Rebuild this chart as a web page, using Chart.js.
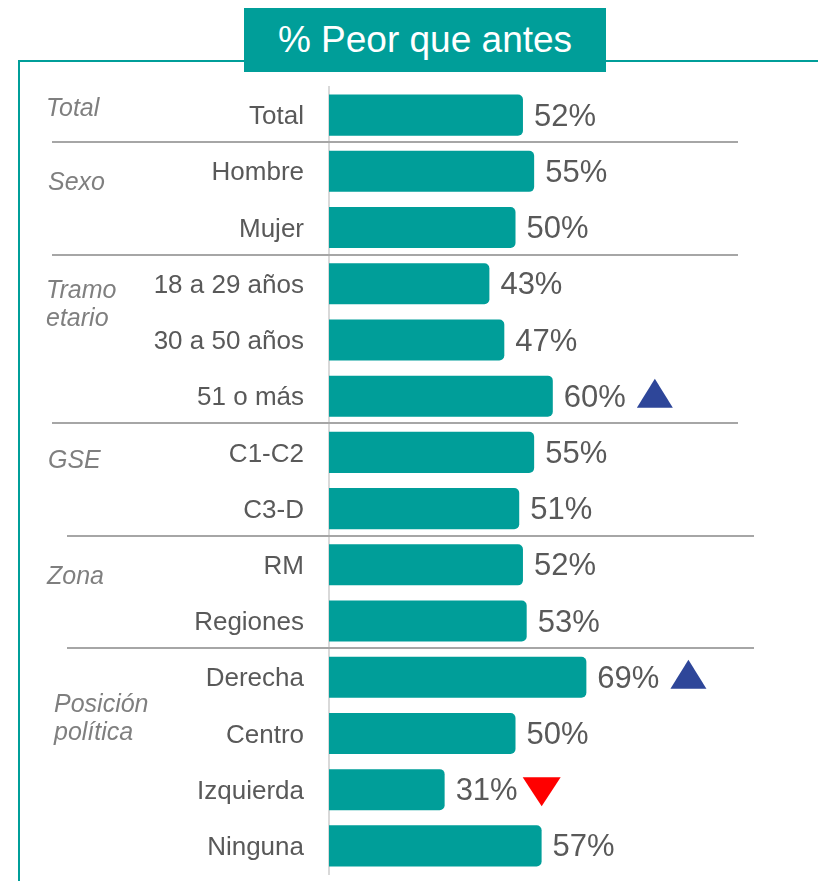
<!DOCTYPE html>
<html>
<head>
<meta charset="utf-8">
<script src="https://cdn.jsdelivr.net/npm/chart.js@4/dist/chart.umd.min.js"></script>
<style>
  html, body { margin: 0; padding: 0; background: #ffffff; }
  #wrap { position: relative; width: 818px; height: 881px; overflow: hidden; font-family: "Liberation Sans", Arial, sans-serif; }
  #frame { position: absolute; left: 18px; top: 60px; width: 820px; height: 840px; border-top: 2px solid #009E99; border-left: 2px solid #009E99; }
  #title { position: absolute; left: 244px; top: 8px; width: 362px; height: 64px; background: #009E99; color: #ffffff; font-size: 37px; line-height: 64px; text-align: center; }
  canvas { position: absolute; left: 0; top: 0; }
</style>
</head>
<body>
<div id="wrap">
  <div id="frame"></div>
  <div id="title">% Peor que antes</div>
  <canvas id="c" width="818" height="881"></canvas>
</div>
<script>
// ---- data ----
const categories = ['Total', 'Hombre', 'Mujer', '18 a 29 años', '30 a 50 años', '51 o más', 'C1-C2', 'C3-D', 'RM', 'Regiones', 'Derecha', 'Centro', 'Izquierda', 'Ninguna'];
const values = [52, 55, 50, 43, 47, 60, 55, 51, 52, 53, 69, 50, 31, 57];
const markers = ['', '', '', '', '', 'up', '', '', '', '', 'up', '', 'down', ''];
const groupNames = [['Total'], ['Sexo'], ['Tramo', 'etario'], ['GSE'], ['Zona'], ['Posición', 'política']];
const groupStarts = [0, 1, 3, 6, 8, 10];

const TEAL = '#009E99';
const FONT = '"Liberation Sans", Arial, sans-serif';

const overlay = {
  id: 'overlay',
  beforeDatasetsDraw(chart, args, opts) {
    const ctx = chart.ctx;
    const y = chart.scales.y;
    ctx.save();
    ctx.strokeStyle = '#A6A6A6';
    ctx.lineWidth = 2;
    groupStarts.slice(1).forEach((s, k) => {
      const py = (y.getPixelForValue(s - 1) + y.getPixelForValue(s)) / 2;
      const xr = opts.sepX[k];
      ctx.beginPath();
      ctx.moveTo(xr[0], Math.round(py) - 1);
      ctx.lineTo(xr[1], Math.round(py) - 1);
      ctx.stroke();
    });
    // group labels
    ctx.fillStyle = '#7F7F7F';
    ctx.font = 'italic 25px ' + FONT;
    ctx.textBaseline = 'middle';
    ctx.textAlign = 'left';
    const step = y.getPixelForValue(1) - y.getPixelForValue(0);
    groupNames.forEach((lines, g) => {
      const cy = y.getPixelForValue(0) + opts.groupAt[g] * step + 2;
      const lh = 28;
      lines.forEach((t, j) => {
        ctx.fillText(t, opts.groupX[g], cy + (j - (lines.length - 1) / 2) * lh);
      });
    });
    ctx.restore();
  },
  afterDatasetsDraw(chart) {
    const ctx = chart.ctx;
    const meta = chart.getDatasetMeta(0);
    ctx.save();
    ctx.font = '31px ' + FONT;
    ctx.textBaseline = 'middle';
    ctx.textAlign = 'left';
    meta.data.forEach((bar, i) => {
      const txt = values[i] + '%';
      const x = bar.x + 11;
      ctx.fillStyle = '#595959';
      ctx.fillText(txt, x, bar.y + 2);
      const w = ctx.measureText(txt).width;
      const m = markers[i];
      if (m === 'up') {
        const x0 = x + w + 11, cy = bar.y - 3;
        ctx.fillStyle = '#2E4699';
        ctx.beginPath();
        ctx.moveTo(x0, cy + 14.5);
        ctx.lineTo(x0 + 36, cy + 14.5);
        ctx.lineTo(x0 + 18, cy - 14.5);
        ctx.closePath();
        ctx.fill();
      } else if (m === 'down') {
        const x0 = x + w + 5, cy = bar.y + 2;
        ctx.fillStyle = '#FF0000';
        ctx.beginPath();
        ctx.moveTo(x0, cy - 14.5);
        ctx.lineTo(x0 + 38, cy - 14.5);
        ctx.lineTo(x0 + 19, cy + 14.5);
        ctx.closePath();
        ctx.fill();
      }
    });
    ctx.restore();
  }
};

new Chart(document.getElementById('c'), {
  type: 'bar',
  data: {
    labels: categories,
    datasets: [{
      data: values,
      backgroundColor: TEAL,
      borderWidth: 0,
      borderRadius: 5,
      barPercentage: 0.73,
      categoryPercentage: 1
    }]
  },
  options: {
    indexAxis: 'y',
    responsive: false,
    animation: false,
    events: [],
    layout: { padding: { top: 87, bottom: 7, left: 0, right: 116 } },
    scales: {
      x: { display: false, min: 0, max: 100 },
      y: {
        grid: { display: false, drawTicks: false },
        border: { display: true, color: '#D9D9D9', width: 2 },
        ticks: { color: '#595959', font: { size: 26, family: FONT }, padding: 25, labelOffset: 2 },
        afterFit(s) { s.width = 329; s.paddingTop = 0; s.paddingBottom = 0; }
      }
    },
    plugins: {
      legend: { display: false },
      tooltip: { enabled: false },
      overlay: {
        sepX: [[52, 738], [52, 738], [52, 738], [67, 754], [67, 754]],
        groupAt: [-0.15, 1.17, 3.34, 6.12, 8.19, 10.70],
        groupX: [46, 48, 46, 48, 47, 54]
      }
    }
  },
  plugins: [overlay]
});
</script>
</body>
</html>
